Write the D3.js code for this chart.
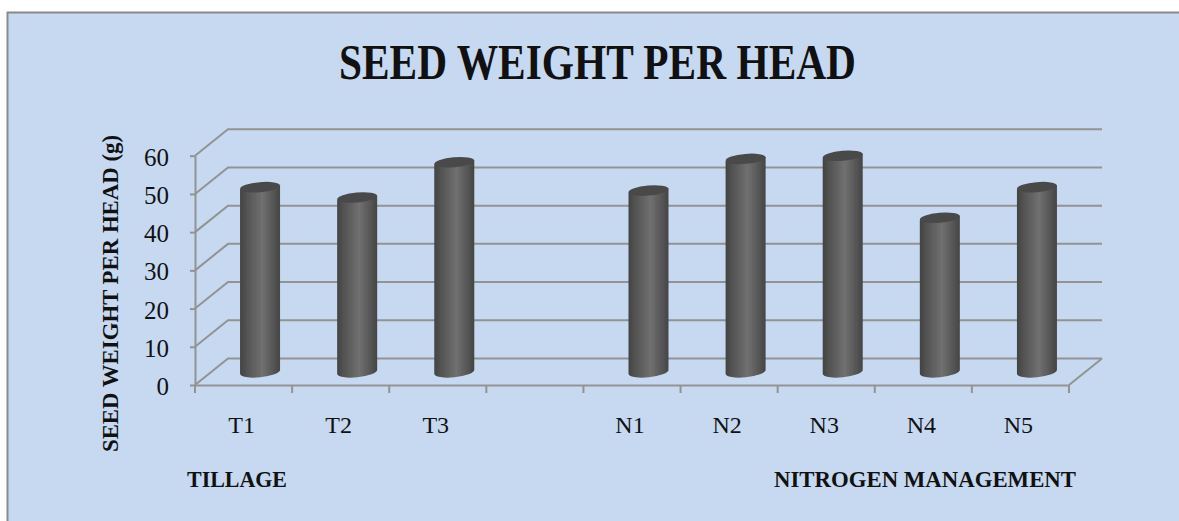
<!DOCTYPE html>
<html>
<head>
<meta charset="utf-8">
<script src="https://cdn.jsdelivr.net/npm/d3@7"></script>
<style>
html, body { margin: 0; padding: 0; background: #fff; }
svg { display: block; }
text { font-family: "Liberation Serif", serif; fill: #111; }
</style>
</head>
<body>
<div id="chart"></div>
<script>
var categories = ['T1', 'T2', 'T3', '', 'N1', 'N2', 'N3', 'N4', 'N5'];
var seedWeight = [48.3, 45.6, 54.8, null, 47.4, 55.7, 56.5, 40.3, 48.3];
var yTicks = [0, 10, 20, 30, 40, 50, 60];

var fullWidth = 1179;
var fullHeight = 521;
var gridColor = '#939393';
// how far the back wall sits from the front of the floor
var depthX = 33;
var depthY = 26.5;
var barWidth = 40;

var svg = d3.select('#chart').append('svg')
  .attr('width', fullWidth)
  .attr('height', fullHeight);

// panel, runs off the right and bottom of the picture
svg.append('rect')
  .attr('x', 7.5).attr('y', 12.5)
  .attr('width', fullWidth).attr('height', fullHeight)
  .attr('fill', '#c6d9f1')
  .attr('stroke', '#8a8a8a')
  .attr('stroke-width', 2);

var x = d3.scaleBand().domain(categories).range([195, 1069]);
var y = d3.scaleLinear().domain([0, 60]).range([385, 155.7]);

// shading across the cylinder
var defs = svg.append('defs');
var grad = defs.append('linearGradient').attr('id', 'cyl');
grad.append('stop').attr('offset', '0%').attr('stop-color', '#424242');
grad.append('stop').attr('offset', '12%').attr('stop-color', '#4f4f4f');
grad.append('stop').attr('offset', '55%').attr('stop-color', '#707070');
grad.append('stop').attr('offset', '88%').attr('stop-color', '#515151');
grad.append('stop').attr('offset', '100%').attr('stop-color', '#454545');

// the reference is slightly soft
var soft = defs.append('filter').attr('id', 'soft');
soft.append('feGaussianBlur').attr('stdDeviation', 0.5);

// back wall gridlines and the slanted side wall lines
var grid = svg.append('g')
  .attr('fill', 'none')
  .attr('stroke', gridColor)
  .attr('stroke-width', 2);

grid.selectAll('path.wall')
  .data(yTicks)
  .enter().append('path')
    .attr('class', 'wall')
    .attr('d', function(d) {
      return 'M' + x.range()[0] + ',' + y(d) +
        'L' + (x.range()[0] + depthX) + ',' + (y(d) - depthY) +
        'L' + (x.range()[1] + depthX) + ',' + (y(d) - depthY);
    });

// right edge of the floor
grid.append('path')
  .attr('d', 'M' + x.range()[1] + ',' + y(0) +
    'L' + (x.range()[1] + depthX) + ',' + (y(0) - depthY));

// left axis
var yAxis = d3.axisLeft(y).tickValues(yTicks).tickSize(5).tickPadding(21).tickSizeOuter(0);
var yAxisEle = svg.append('g')
  .attr('transform', 'translate(' + x.range()[0] + ',0)')
  .call(yAxis);
yAxisEle.select('.domain').attr('stroke', gridColor).attr('stroke-width', 2);
yAxisEle.selectAll('line').attr('stroke', gridColor).attr('stroke-width', 2);
yAxisEle.selectAll('text')
  .style('font-size', '25px')
  .attr('fill', '#111')
  .attr('dy', '0.38em');

// bottom axis, the labels sit in the bands and the ticks between them
var xAxis = d3.axisBottom(x).tickSize(0).tickPadding(31).tickSizeOuter(0);
var xAxisEle = svg.append('g')
  .attr('transform', 'translate(0,' + y(0) + ')')
  .call(xAxis);
xAxisEle.select('.domain').attr('stroke', gridColor).attr('stroke-width', 2);
xAxisEle.selectAll('text')
  .style('font-size', '24px')
  .attr('fill', '#111')
  .attr('dx', -2);

var tickXs = categories.map(function(c) { return x(c); }).concat([x.range()[1]]);
xAxisEle.selectAll('line.boundary')
  .data(tickXs)
  .enter().append('line')
    .attr('class', 'boundary')
    .attr('x1', function(d) { return d; })
    .attr('x2', function(d) { return d; })
    .attr('y1', 0)
    .attr('y2', 8)
    .attr('stroke', gridColor)
    .attr('stroke-width', 2);

// the cylinders stand half way back on the floor
var rows = categories.map(function(c, i) {
  return {name: c, value: seedWeight[i]};
}).filter(function(d) { return d.value !== null; });

function barX(d) {
  return x(d.name) + x.bandwidth() / 2 + depthX / 2;
}
function barY(v) {
  return y(v) - depthY / 2;
}

var bars = svg.append('g')
    .attr('filter', 'url(#soft)')
  .selectAll('g.bar')
    .data(rows)
  .enter().append('g')
    .attr('class', 'bar');

bars.append('path')
  .attr('fill', 'url(#cyl)')
  .attr('d', function(d) {
    var r = barWidth / 2;
    var l = barX(d) - r;
    var rt = barX(d) + r;
    var top = barY(d.value);
    var bot = barY(0);
    return 'M' + l + ',' + (top + 2) +
      'L' + rt + ',' + (top - 2) +
      'L' + rt + ',' + (bot - 2) +
      'A' + r + ',5.5 -6 0 1 ' + l + ',' + (bot + 2) + 'Z';
  });

bars.append('ellipse')
  .attr('cx', barX)
  .attr('cy', function(d) { return barY(d.value); })
  .attr('rx', barWidth / 2)
  .attr('ry', 5)
  .attr('fill', '#4a4a4a')
  .attr('transform', function(d) {
    return 'rotate(-5,' + barX(d) + ',' + barY(d.value) + ')';
  });

// titles
svg.append('text')
  .attr('x', 597.5)
  .attr('y', 79)
  .attr('text-anchor', 'middle')
  .attr('textLength', 517)
  .attr('lengthAdjust', 'spacingAndGlyphs')
  .style('font-size', '50px')
  .style('font-weight', 'bold')
  .text('SEED WEIGHT PER HEAD');

svg.append('text')
  .attr('transform', 'translate(118,293.5) rotate(-90)')
  .attr('text-anchor', 'middle')
  .attr('textLength', 317)
  .attr('lengthAdjust', 'spacingAndGlyphs')
  .style('font-size', '24px')
  .style('font-weight', 'bold')
  .text('SEED WEIGHT PER HEAD (g)');

svg.append('text')
  .attr('x', 187)
  .attr('y', 487)
  .attr('textLength', 100)
  .attr('lengthAdjust', 'spacingAndGlyphs')
  .style('font-size', '24px')
  .style('font-weight', 'bold')
  .text('TILLAGE');

svg.append('text')
  .attr('x', 774)
  .attr('y', 487)
  .attr('textLength', 302)
  .attr('lengthAdjust', 'spacingAndGlyphs')
  .style('font-size', '24px')
  .style('font-weight', 'bold')
  .text('NITROGEN MANAGEMENT');
</script>
</body>
</html>
